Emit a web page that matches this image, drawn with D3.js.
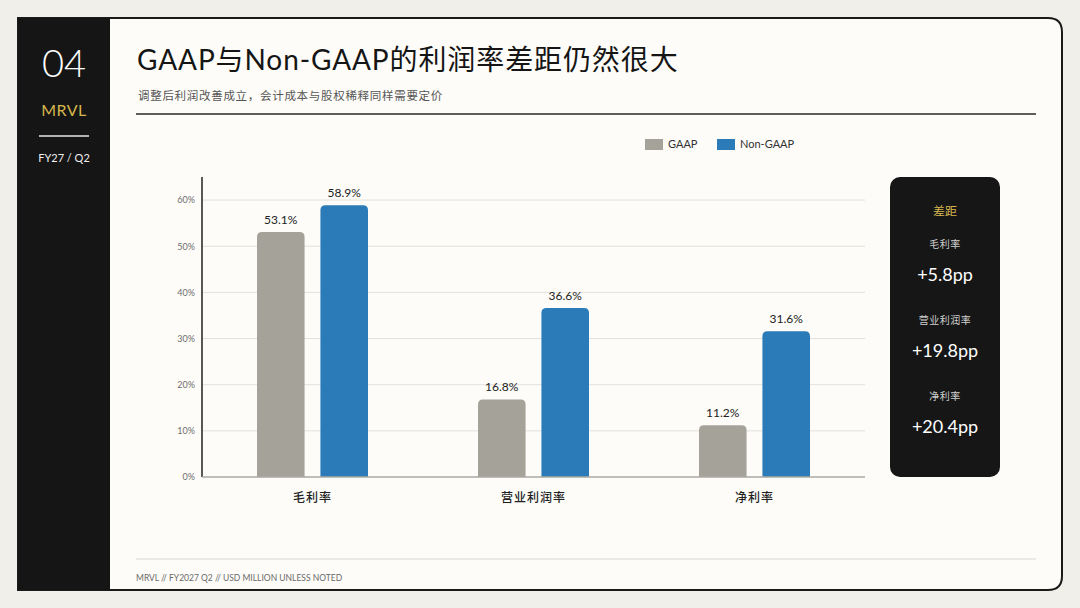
<!DOCTYPE html>
<html>
<head>
<meta charset="utf-8">
<title>GAAP vs Non-GAAP</title>
<script src="https://d3js.org/d3.v7.min.js"></script>
<style>
  html, body { margin: 0; padding: 0; background: #f1efe9; }
  svg { display: block; }
  text { font-family: Lato, "Noto Sans CJK SC", sans-serif; }
</style>
</head>
<body>
<div id="chart"></div>
<script>
// data
const categories = ["毛利率", "营业利润率", "净利率"];
const series = ["GAAP", "Non-GAAP"];
const gaapValues = [53.1, 16.8, 11.2];
const nonGaapValues = [58.9, 36.6, 31.6];
const yTicks = [0, 10, 20, 30, 40, 50, 60];
const gapLabels = ["毛利率", "营业利润率", "净利率"];
const gapValues = ["+5.8pp", "+19.8pp", "+20.4pp"];

const W = 1080, H = 608;
const colors = { "GAAP": "#a5a29a", "Non-GAAP": "#2b7bb9" };

const svg = d3.select("#chart").append("svg")
    .attr("width", W).attr("height", H);

// background card (square left corners, rounded right)
const cx0 = 18, cy0 = 18, cx1 = 1062, cy1 = 590, r = 14;
svg.append("path")
    .attr("d", `M${cx0},${cy0} H${cx1 - r} Q${cx1},${cy0} ${cx1},${cy0 + r} V${cy1 - r} Q${cx1},${cy1} ${cx1 - r},${cy1} H${cx0} Z`)
    .attr("fill", "#fdfcf8")
    .attr("stroke", "#1a1a1a")
    .attr("stroke-width", 2);

// sidebar
svg.append("rect")
    .attr("x", cx0).attr("y", cy0)
    .attr("width", 110 - cx0).attr("height", cy1 - cy0)
    .attr("fill", "#151515");

svg.append("text").attr("x", 64).attr("y", 77)
    .attr("text-anchor", "middle").attr("fill", "#ffffff")
    .attr("font-size", 38).attr("font-weight", 300).text("04");
svg.append("text").attr("x", 64).attr("y", 116)
    .attr("text-anchor", "middle").attr("fill", "#d6b54e")
    .attr("font-size", 16).attr("letter-spacing", 0.5).text("MRVL");
svg.append("line").attr("x1", 39).attr("x2", 89).attr("y1", 136).attr("y2", 136)
    .attr("stroke", "#e8e6e0").attr("stroke-width", 1.5);
svg.append("text").attr("x", 64).attr("y", 162)
    .attr("text-anchor", "middle").attr("fill", "#eeeeee")
    .attr("font-size", 11).text("FY27 / Q2");

// header
svg.append("text").attr("x", 137).attr("y", 70)
    .attr("fill", "#151515").attr("font-size", 28).attr("letter-spacing", 0.9)
    .text("GAAP与Non-GAAP的利润率差距仍然很大");
svg.append("text").attr("x", 138).attr("y", 100)
    .attr("fill", "#555555").attr("font-size", 11.5).attr("letter-spacing", 0.7)
    .text("调整后利润改善成立，会计成本与股权稀释同样需要定价");
svg.append("line").attr("x1", 136).attr("x2", 1036).attr("y1", 114).attr("y2", 114)
    .attr("stroke", "#2a2a2a").attr("stroke-width", 1.5);

// legend
const legend = svg.append("g").attr("transform", "translate(645,139)");
const legendX = [0, 72];
series.forEach((s, i) => {
  const g = legend.append("g").attr("transform", `translate(${legendX[i]},0)`);
  g.append("rect").attr("width", 18).attr("height", 11).attr("fill", colors[s]);
  g.append("text").attr("x", 23).attr("y", 9).attr("font-size", 11)
      .attr("fill", "#333").text(s);
});

// chart area
const plotL = 202, plotR = 865, plotT = 177, plotB = 477;
const y = d3.scaleLinear().domain([0, 65]).range([plotB, plotT]);
const x0 = d3.scaleBand().domain(categories).range([plotL, plotR]).padding(0);
const x1 = d3.scaleBand().domain(series).range([55, 166]).paddingInner(0.25);

const chart = svg.append("g");

// gridlines
chart.append("g")
    .selectAll("line").data(yTicks.filter(t => t > 0)).join("line")
    .attr("x1", plotL).attr("x2", plotR)
    .attr("y1", d => y(d)).attr("y2", d => y(d))
    .attr("stroke", "#e3e1dc").attr("stroke-width", 1);

// y axis
const yAxis = d3.axisLeft(y).tickValues(yTicks).tickFormat(d => d + "%").tickSize(0).tickPadding(7);
const yg = chart.append("g").attr("transform", `translate(${plotL},0)`).call(yAxis);
yg.select(".domain").remove();
yg.selectAll("text").attr("font-size", 9).attr("fill", "#6e6e6e")
    .attr("font-family", "Lato, sans-serif");
chart.append("line").attr("x1", plotL).attr("x2", plotL).attr("y1", plotT).attr("y2", plotB)
    .attr("stroke", "#222").attr("stroke-width", 1.5);

// bars
const rows = categories.map((c, i) => ({
  cat: c,
  vals: [{ s: "GAAP", v: gaapValues[i] }, { s: "Non-GAAP", v: nonGaapValues[i] }]
}));

const groups = chart.append("g").selectAll("g").data(rows).join("g")
    .attr("transform", d => `translate(${x0(d.cat)},0)`);

groups.selectAll("path").data(d => d.vals).join("path")
    .attr("fill", d => colors[d.s])
    .attr("d", d => {
      const bx = x1(d.s), bw = x1.bandwidth(), by = y(d.v), rr = 5;
      return `M${bx},${plotB} V${by + rr} Q${bx},${by} ${bx + rr},${by} H${bx + bw - rr} Q${bx + bw},${by} ${bx + bw},${by + rr} V${plotB} Z`;
    });

groups.selectAll("text.val").data(d => d.vals).join("text")
    .attr("class", "val")
    .attr("x", d => x1(d.s) + x1.bandwidth() / 2)
    .attr("y", d => y(d.v) - 8)
    .attr("text-anchor", "middle").attr("font-size", 12).attr("fill", "#222")
    .text(d => d.v.toFixed(1) + "%");

// baseline
chart.append("line").attr("x1", plotL).attr("x2", plotR).attr("y1", plotB).attr("y2", plotB)
    .attr("stroke", "#aaa8a2").attr("stroke-width", 1.5);

// category labels
chart.append("g").selectAll("text").data(categories).join("text")
    .attr("x", d => x0(d) + x0.bandwidth() / 2)
    .attr("y", 502)
    .attr("text-anchor", "middle").attr("font-size", 12).attr("fill", "#222")
    .attr("font-weight", 500).attr("letter-spacing", 1)
    .text(d => d);

// gap card
const card = svg.append("g");
card.append("rect").attr("x", 890).attr("y", 177).attr("width", 110).attr("height", 300)
    .attr("rx", 10).attr("fill", "#161616");
card.append("text").attr("x", 945).attr("y", 216).attr("text-anchor", "middle")
    .attr("fill", "#d6b54e").attr("font-size", 12).text("差距");
const gapY = d3.scalePoint().domain(gapLabels).range([248, 400]);
card.selectAll("text.lab").data(gapLabels).join("text")
    .attr("class", "lab")
    .attr("x", 945).attr("y", d => gapY(d))
    .attr("text-anchor", "middle").attr("fill", "#cfcfcf").attr("font-size", 10)
    .attr("letter-spacing", 0.5)
    .text(d => d);
card.selectAll("text.gap").data(gapValues).join("text")
    .attr("class", "gap")
    .attr("x", 945).attr("y", (d, i) => gapY(gapLabels[i]) + 33)
    .attr("text-anchor", "middle").attr("fill", "#ffffff").attr("font-size", 18)
    .text(d => d);

// footer
svg.append("line").attr("x1", 136).attr("x2", 1036).attr("y1", 559).attr("y2", 559)
    .attr("stroke", "#d9d7d2").attr("stroke-width", 1);
svg.append("text").attr("x", 136).attr("y", 581)
    .attr("fill", "#6a6a6a").attr("font-size", 8.5)
    .text("MRVL // FY2027 Q2 // USD MILLION UNLESS NOTED");
</script>
</body>
</html>
